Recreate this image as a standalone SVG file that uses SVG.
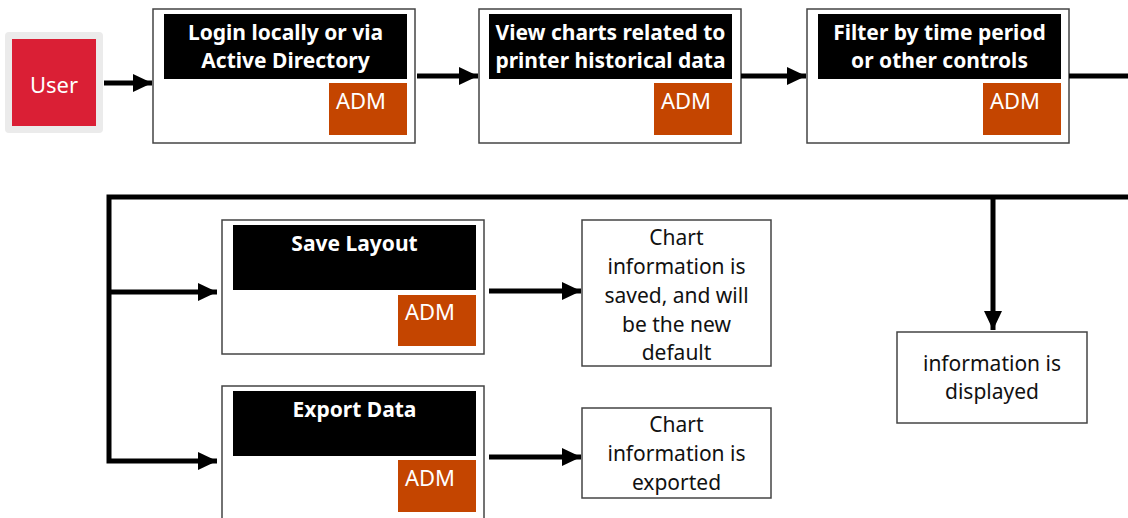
<svg xmlns="http://www.w3.org/2000/svg" width="1128" height="518" viewBox="0 0 1128 518">
<style>
.box{fill:#fff;stroke:#444;stroke-width:1.5}
.hdr{fill:#000}
.adm{fill:#C44500}
.ht{font-family:"Noto Sans",sans-serif;font-weight:bold;font-size:21px;fill:#fff;text-anchor:middle}
.at{font-family:"Noto Sans",sans-serif;font-size:22px;fill:#fff}
.rt{font-family:"Noto Sans",sans-serif;font-size:21px;fill:#111;text-anchor:middle}
.ln{fill:none;stroke:#000;stroke-width:5}
</style>
<defs>
<marker id="ah" markerUnits="userSpaceOnUse" markerWidth="20" markerHeight="18" refX="19" refY="9" orient="auto">
<path d="M0,0 L19,9 L0,18 Z" fill="#000"/>
</marker>
</defs>
<rect width="1128" height="518" fill="#fff"/>
<g id="user">
<rect x="5" y="32" width="98" height="101" rx="4" fill="#EBEBEB"/>
<rect x="12" y="39" width="84" height="87" fill="#DA1F35"/>
<text x="54" y="93" class="at" text-anchor="middle">User</text>
</g>
<g id="login">
<rect class="box" x="153" y="9" width="262" height="134"/>
<rect class="hdr" x="164" y="14" width="243" height="65"/>
<text class="ht" x="285.5" y="40">Login locally or via</text>
<text class="ht" x="285.5" y="68">Active Directory</text>
<rect class="adm" x="329" y="83" width="78" height="52"/>
<text class="at" x="336" y="109">ADM</text>
</g>
<g id="view">
<rect class="box" x="479" y="9" width="262" height="134"/>
<rect class="hdr" x="489" y="14" width="243" height="65"/>
<text class="ht" x="610.5" y="40">View charts related to</text>
<text class="ht" x="610.5" y="68">printer historical data</text>
<rect class="adm" x="654" y="83" width="78" height="52"/>
<text class="at" x="661" y="109">ADM</text>
</g>
<g id="filter">
<rect class="box" x="807" y="9" width="262" height="134"/>
<rect class="hdr" x="818" y="14" width="243" height="65"/>
<text class="ht" x="939.5" y="40">Filter by time period</text>
<text class="ht" x="939.5" y="68">or other controls</text>
<rect class="adm" x="983" y="83" width="78" height="52"/>
<text class="at" x="990" y="109">ADM</text>
</g>
<g id="save">
<rect class="box" x="222" y="220" width="262" height="134"/>
<rect class="hdr" x="233" y="225" width="243" height="65"/>
<text class="ht" x="354.5" y="251">Save Layout</text>
<rect class="adm" x="398" y="295" width="78" height="51"/>
<text class="at" x="405" y="320">ADM</text>
</g>
<g id="export">
<rect class="box" x="222" y="386" width="262" height="140"/>
<rect class="hdr" x="233" y="391" width="243" height="65"/>
<text class="ht" x="354.5" y="417">Export Data</text>
<rect class="adm" x="398" y="460" width="78" height="52"/>
<text class="at" x="405" y="486">ADM</text>
</g>
<g id="saved">
<rect class="box" x="582" y="220" width="189" height="146"/>
<text class="rt" x="676.5" y="245">Chart</text>
<text class="rt" x="676.5" y="274">information is</text>
<text class="rt" x="676.5" y="303">saved, and will</text>
<text class="rt" x="676.5" y="332">be the new</text>
<text class="rt" x="676.5" y="360">default</text>
</g>
<g id="exported">
<rect class="box" x="582" y="408" width="189" height="90"/>
<text class="rt" x="676.5" y="432">Chart</text>
<text class="rt" x="676.5" y="461">information is</text>
<text class="rt" x="676.5" y="490">exported</text>
</g>
<g id="displayed">
<rect class="box" x="897" y="332" width="190" height="91"/>
<text class="rt" x="992" y="371">information is</text>
<text class="rt" x="992" y="399">displayed</text>
</g>
<g id="connectors">
<line class="ln" x1="104" y1="83" x2="152" y2="83" marker-end="url(#ah)"/>
<line class="ln" x1="417" y1="76" x2="478" y2="76" marker-end="url(#ah)"/>
<line class="ln" x1="741" y1="76" x2="806" y2="76" marker-end="url(#ah)"/>
<line class="ln" x1="1069" y1="76" x2="1130" y2="76"/>
<polyline class="ln" points="1130,197 109,197 109,461 217,461" marker-end="url(#ah)"/>
<line class="ln" x1="109" y1="292" x2="217" y2="292" marker-end="url(#ah)"/>
<line class="ln" x1="993" y1="197" x2="993" y2="330" marker-end="url(#ah)"/>
<line class="ln" x1="489" y1="291" x2="581" y2="291" marker-end="url(#ah)"/>
<line class="ln" x1="489" y1="457" x2="581" y2="457" marker-end="url(#ah)"/>
</g>
</svg>
